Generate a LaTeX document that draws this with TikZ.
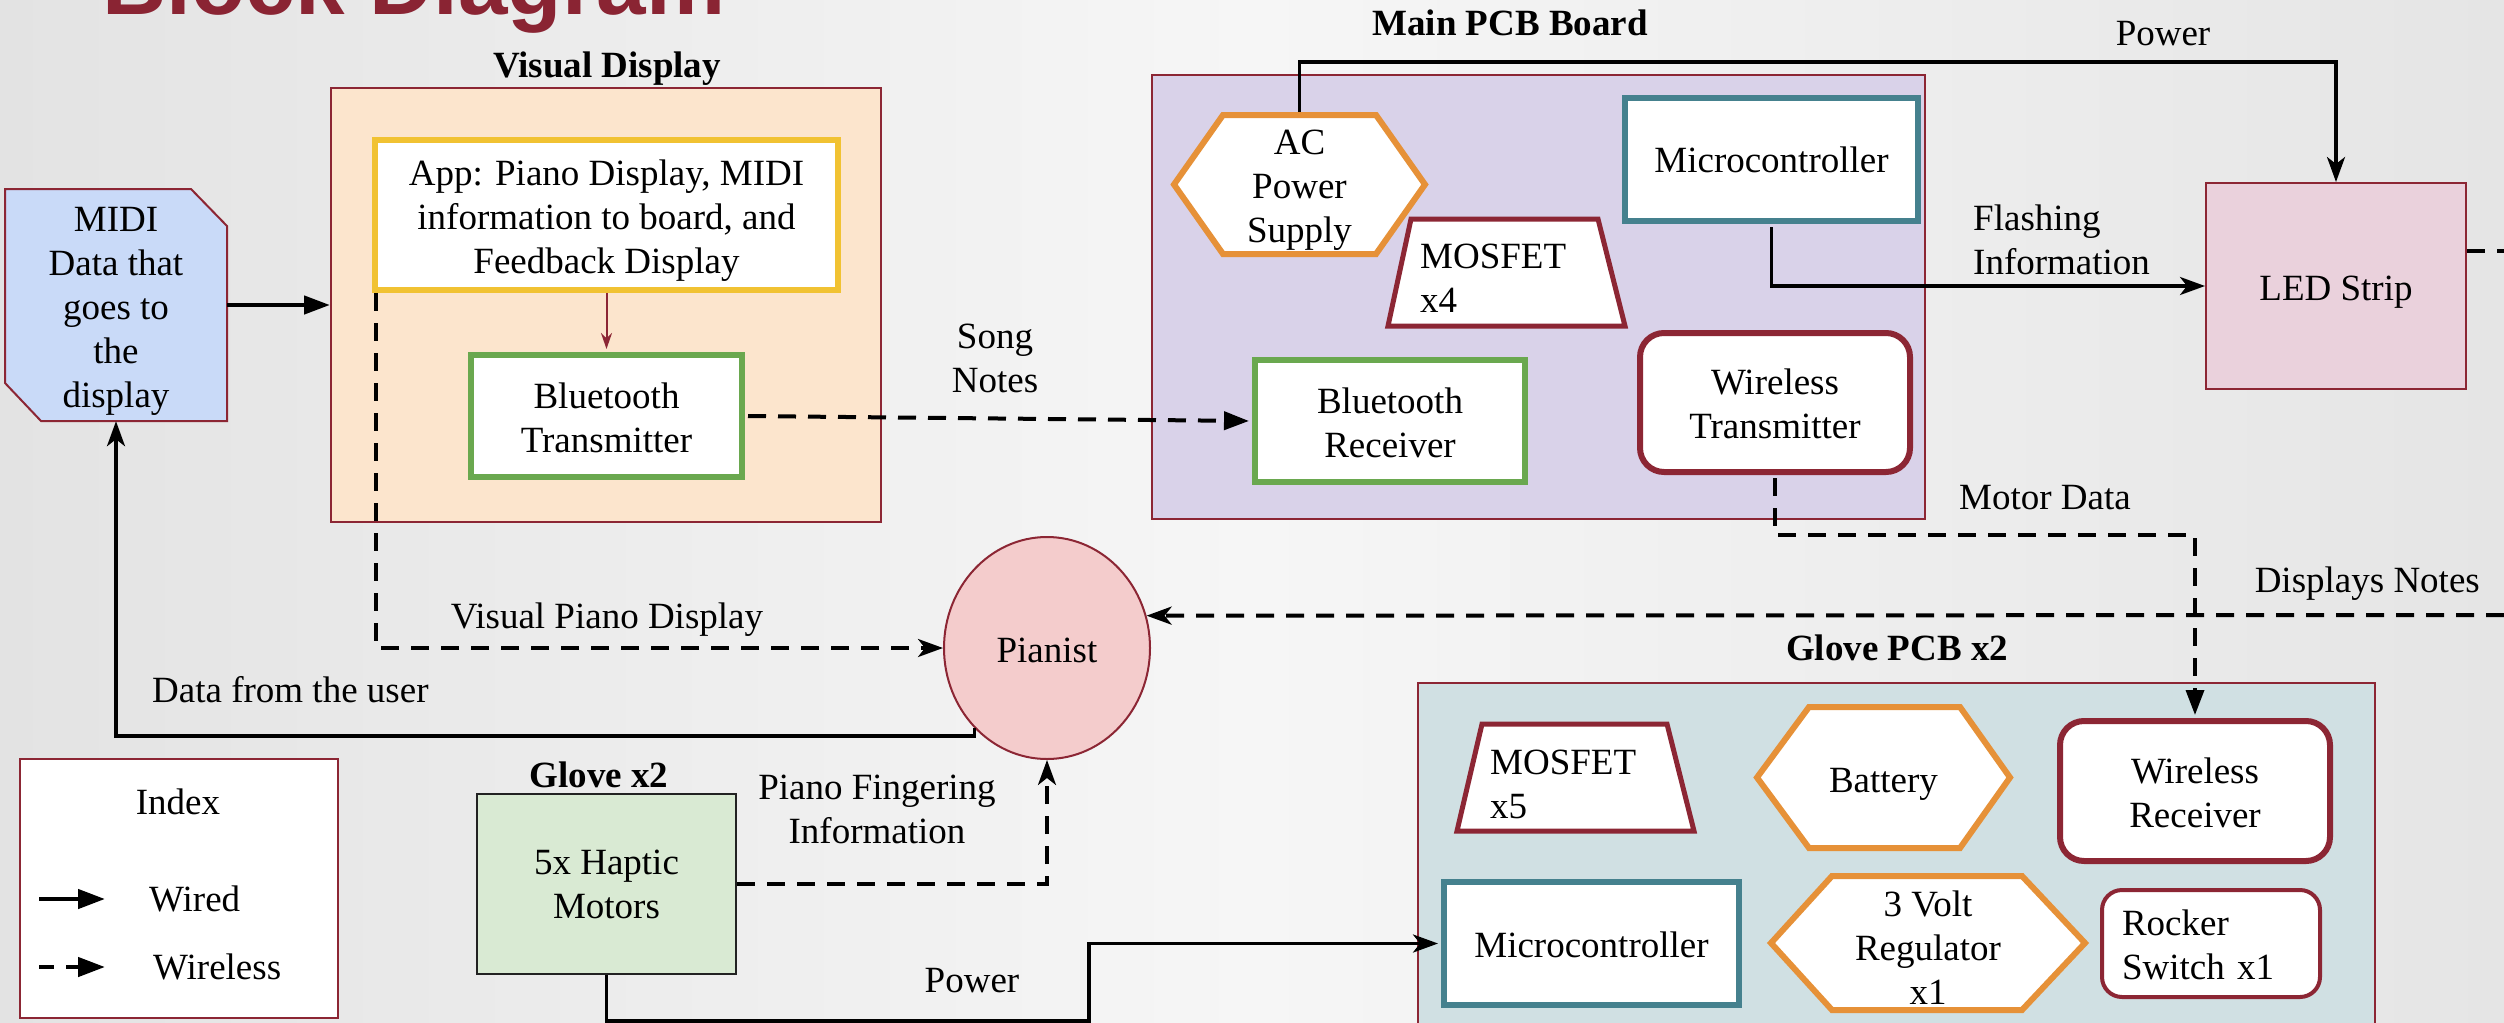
\documentclass[tikz,border=0pt]{standalone}
\usepackage{fontspec}
\setmainfont{Liberation Serif}
\newfontfamily\headfont{Liberation Sans}
\usetikzlibrary{arrows.meta,shapes.geometric}

\definecolor{bgside}{HTML}{E3E3E3}
\definecolor{bgmid}{HTML}{F6F6F6}
\definecolor{bgright}{HTML}{E5E5E5}
\definecolor{dred}{HTML}{8C2634}
\definecolor{tred}{HTML}{8A2433}
\definecolor{appy}{HTML}{F1C232}
\definecolor{grn}{HTML}{6AA84F}
\definecolor{orng}{HTML}{E69138}
\definecolor{teal}{HTML}{45818E}
\definecolor{vdfill}{HTML}{FCE5CD}
\definecolor{mainfill}{HTML}{D9D2E9}
\definecolor{midifill}{HTML}{C9DAF8}
\definecolor{ledfill}{HTML}{EAD1DC}
\definecolor{pfill}{HTML}{F4CCCC}
\definecolor{glovefill}{HTML}{D9EAD3}
\definecolor{gpcbfill}{HTML}{D0E0E3}
\definecolor{gloveedge}{HTML}{222222}

% tall invisible strut that lowers a centred text block
\newcommand\lowerby[1]{\rule{0pt}{#1}}

\begin{document}
\begin{tikzpicture}[x=1pt,y=-1pt,
  every node/.style={font=\fontsize{37}{44}\selectfont, inner sep=0pt},
  panel/.style={draw=dred, line width=2pt},
  heavy/.style={fill=white, line width=6pt},
  txt/.style={align=center},
  hd/.style={font=\fontsize{37}{44}\selectfont\bfseries},
  wired/.style={draw=black, line width=3.5pt, -{Stealth[length=25pt,width=18pt,inset=7pt]}},
  wless/.style={draw=black, line width=4pt, dash pattern=on 18pt off 12pt,
    -{Stealth[length=25pt,width=18pt,inset=7pt]}},
  tri/.style={-{Triangle[length=25pt,width=18pt]}},
]
% background
\shade[left color=bgside, right color=bgright, middle color=bgmid] (0,0) rectangle (2504,1023);
\useasboundingbox (0,0) rectangle (2504,1023);

% heading
\node[anchor=base west, font={\fontsize{89}{96}\headfont\bfseries}, text=tred] (title) at (102,14) {Block Diagram};

% ---------- container panels ----------
\node[panel, fill=vdfill, minimum width=550pt, minimum height=434pt] (vd) at (606,305) {};
\node[hd, anchor=base] (vdt) at (607,77) {Visual Display};

\node[panel, fill=mainfill, minimum width=773pt, minimum height=444pt] (mainpcb) at (1538.5,297) {};
\node[hd, anchor=base] (maint) at (1510,35) {Main PCB Board};

\node[panel, fill=gpcbfill, minimum width=957pt, minimum height=374pt] (gpcb) at (1896.5,870) {};
\node[hd, anchor=base] (gpcbt) at (1897,660) {Glove PCB x2};

% ---------- MIDI source ----------
\draw[panel, fill=midifill] (5,189) -- (191,189) -- (227,226) -- (227,421) -- (41,421) -- (5,383) -- cycle;
\node[txt, minimum width=222pt, minimum height=232pt] (midi) at (116,305) {\lowerby{37pt}MIDI\\Data that\\goes to\\the\\display};

% ---------- visual display ----------
\node[heavy, draw=appy, minimum width=463pt, minimum height=150pt, txt] (app) at (606.5,215)
  {\lowerby{37pt}App: Piano Display, MIDI\\information to board, and\\Feedback Display};
\node[heavy, draw=grn, minimum width=271pt, minimum height=122pt, txt] (btt) at (606.5,416)
  {\lowerby{29pt}Bluetooth\\Transmitter};

% ---------- main PCB ----------
\draw[heavy, draw=orng] (1174,184.5) -- (1223,115) -- (1376,115) -- (1425,184.5) -- (1376,254) -- (1223,254) -- cycle;
\node[txt, minimum width=251pt, minimum height=139pt] (ac) at (1299.5,184.5) {\lowerby{35pt}AC\\Power\\Supply};

\node[heavy, draw=teal, minimum width=293pt, minimum height=123pt] (mc1) at (1771.5,159.5) {Microcontroller};

\draw[heavy, draw=dred, line width=5pt] (1411,219) -- (1598,219) -- (1625,326) -- (1388,326) -- cycle;
\node[align=left, anchor=west] (mos1) at (1420,278) {MOSFET\\x4};

\node[heavy, draw=grn, minimum width=270pt, minimum height=122pt, txt] (btr) at (1390,421) {\lowerby{29pt}Bluetooth\\Receiver};

\node[heavy, draw=dred, rounded corners=24pt, minimum width=270pt, minimum height=139pt, txt] (wt) at (1775,402.5)
  {\lowerby{29pt}Wireless\\Transmitter};

% ---------- LED strip ----------
\node[panel, fill=ledfill, minimum width=260pt, minimum height=206pt] (led) at (2336,286) {\lowerby{37pt}LED Strip};

% ---------- pianist ----------
\node[ellipse, panel, fill=pfill, minimum width=206pt, minimum height=222pt] (pianist) at (1047,648) {\lowerby{29pt}Pianist};

% ---------- glove ----------
\node[draw=gloveedge, line width=2pt, fill=glovefill, minimum width=259pt, minimum height=180pt, txt] (glove) at (606.5,884)
  {5x Haptic\\Motors};
\node[hd, anchor=base] (glovet) at (599,787) {Glove x2};

% ---------- glove PCB ----------
\draw[heavy, draw=dred, line width=5pt] (1482,724) -- (1667,724) -- (1694,831) -- (1457,831) -- cycle;
\node[align=left, anchor=west] (mos2) at (1490,784) {MOSFET\\x5};

\draw[heavy, draw=orng] (1757,777.5) -- (1809,707) -- (1960,707) -- (2010,777.5) -- (1960,848) -- (1809,848) -- cycle;
\node[minimum width=253pt, minimum height=141pt] (bat) at (1883.5,777.5) {\lowerby{37pt}Battery};

\node[heavy, draw=dred, rounded corners=24pt, minimum width=270pt, minimum height=140pt, txt] (wr) at (2195,791)
  {\lowerby{29pt}Wireless\\Receiver};

\node[heavy, draw=teal, minimum width=295pt, minimum height=123pt] (gmc) at (1591.5,943.5) {\lowerby{28pt}Microcontroller};

\draw[heavy, draw=orng] (1771,943) -- (1832,876) -- (2022,876) -- (2085,943) -- (2022,1010) -- (1832,1010) -- cycle;
\node[txt, minimum width=314pt, minimum height=134pt] (reg) at (1928,943) {\lowerby{34pt}3 Volt\\Regulator\\x1};

\node[heavy, draw=dred, line width=4pt, rounded corners=20pt, minimum width=218pt, minimum height=107pt,
  text width=178pt, inner xsep=20pt, align=left] (rock) at (2211,943.5) {\lowerby{29pt}Rocker\\Switch x1};

% ---------- index ----------
\node[panel, fill=white, minimum width=318pt, minimum height=259pt] (idx) at (179,888.5) {};
\node[anchor=base] (idxt) at (178,814) {Index};
\coordinate (iwa) at (39,899);
\coordinate (iwb) at (105,899);
\coordinate (ila) at (39,967);
\coordinate (ilb) at (105,967);
\draw[draw=black, line width=4.5pt, -{Triangle[length=27pt,width=19pt]}] (iwa) -- (iwb);
\draw[draw=black, line width=4.5pt, dash pattern=on 15pt off 12pt, -{Triangle[length=27pt,width=19pt]}] (ila) -- (ilb);
\node[anchor=base west] (iwt) at (149,911) {Wired};
\node[anchor=base west] (ilt) at (153,979) {Wireless};

% ---------- connectors ----------
\coordinate (du) at (116,736);
\coordinate (ledout) at (2504,251);
\coordinate (dnr) at (2504,615);
\coordinate (md) at (2195,535);
\coordinate (gp) at (1089,1021);

% MIDI data into the display app
\draw[draw=black, line width=4.5pt, -{Triangle[length=26pt,width=18pt]}] (midi.east) -- (vd.west);
% app to transmitter
\draw[draw=dred, line width=2pt, -{Stealth[length=16pt,width=11pt]}, shorten >=3pt] (app.south) -- (btt.north);
% song notes over bluetooth
\draw[wless, tri, shorten <=3pt, shorten >=3pt] (btt.east) -- (btr.west);
% power to the LED strip
\draw[wired, shorten <=3pt] (ac.north) -- ++(0,-53) -| (led.north);
% flashing information
\draw[wired, shorten <=3pt] (mc1.south) |- (led.west);
% LED strip output
\draw[wless, -] (led.east |- ledout) -- (ledout);
% motor data to the glove PCB
\draw[wless, tri, line width=3.5pt, shorten <=3pt, shorten >=3pt] (wt.south) |- (md) -- (wr.north);
% notes shown to the pianist
\draw[wless] (dnr) -- (pianist.18);
% visual piano display
\draw[wless, line width=3.5pt] ([xshift=4pt]app.south west) |- (pianist.west);
% data from the user
\draw[wired] (pianist.228) |- (du) -- (midi.south);
% piano fingering information
\draw[wless, line width=3.5pt] (glove.east) -| (pianist.south);
% power to the glove microcontroller
\draw[wired, shorten >=3pt] (glove.south) |- (gp) |- (gmc.west);

% ---------- connector labels ----------
\node[txt] (songl) at (995,358) {Song\\Notes};
\node[anchor=base] (powl) at (2163,45) {Power};
\node[align=left, anchor=west] (flashl) at (1973,240) {Flashing\\Information};
\node[anchor=base west] (mdl) at (1959,509) {Motor Data};
\node[anchor=base east] (dnl) at (2480,592) {Displays Notes};
\node[txt] (vpl) at (607,620) {Visual Piano Display};
\node[anchor=base west] (dul) at (152,702) {Data from the user};
\node[txt] (pfl) at (877,809) {Piano Fingering\\Information};
\node[anchor=base] (gpl) at (972,992) {Power};
\end{tikzpicture}
\end{document}
